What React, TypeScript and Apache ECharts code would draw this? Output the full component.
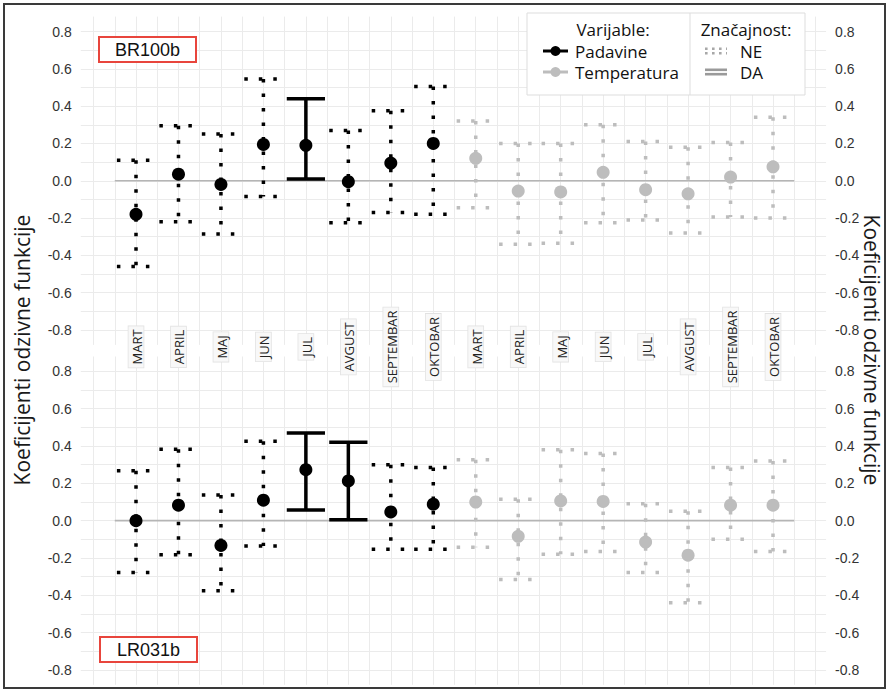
import React, { useEffect, useRef } from 'react';
import * as echarts from 'echarts';

// ---------- data ----------
const months = ['MART', 'APRIL', 'MAJ', 'JUN', 'JUL', 'AVGUST', 'SEPTEMBAR', 'OKTOBAR'];
const variables = ['Padavine', 'Temperatura'];
const significance = ['NE', 'DA'];
const panelNames = ['BR100b', 'LR031b'];

// BR100b
const br100bPadavineMean = [-0.18, 0.035, -0.02, 0.195, 0.19, -0.005, 0.095, 0.2];
const br100bPadavineLow = [-0.46, -0.22, -0.285, -0.085, 0.01, -0.225, -0.17, -0.18];
const br100bPadavineHigh = [0.11, 0.295, 0.25, 0.545, 0.44, 0.27, 0.375, 0.505];
const br100bPadavineSig = [0, 0, 0, 0, 1, 0, 0, 0];

const br100bTemperaturaMean = [0.12, -0.055, -0.06, 0.045, -0.048, -0.07, 0.02, 0.075];
const br100bTemperaturaLow = [-0.145, -0.34, -0.335, -0.225, -0.21, -0.28, -0.195, -0.2];
const br100bTemperaturaHigh = [0.32, 0.2, 0.2, 0.3, 0.21, 0.18, 0.205, 0.34];
const br100bTemperaturaSig = [0, 0, 0, 0, 0, 0, 0, 0];

// LR031b
const lr031bPadavineMean = [0.0, 0.083, -0.133, 0.11, 0.273, 0.213, 0.047, 0.088];
const lr031bPadavineLow = [-0.278, -0.183, -0.376, -0.136, 0.057, 0.005, -0.153, -0.153];
const lr031bPadavineHigh = [0.268, 0.383, 0.137, 0.425, 0.47, 0.42, 0.3, 0.285];
const lr031bPadavineSig = [0, 0, 0, 0, 1, 1, 0, 0];

const lr031bTemperaturaMean = [0.1, -0.084, 0.106, 0.103, -0.115, -0.185, 0.083, 0.083];
const lr031bTemperaturaLow = [-0.143, -0.315, -0.18, -0.165, -0.278, -0.44, -0.1, -0.165];
const lr031bTemperaturaHigh = [0.327, 0.115, 0.38, 0.36, 0.09, 0.05, 0.285, 0.32];
const lr031bTemperaturaSig = [0, 0, 0, 0, 0, 0, 0, 0];

const zeroLineSpan = [0.5, 16.5];

// ---------- styling ----------
const BLACK = '#000000';
const GRAY = '#bdbdbd';
const GRID_COLOR = '#ebebeb';
const CAP_WIDTH = 0.9;
const SANS = "'Open Sans', 'Noto Sans', sans-serif";
const ARIAL = "'Liberation Sans', Arial, sans-serif";

type Panel = {
  mean: number[][];
  low: number[][];
  high: number[][];
  sig: number[][];
};

const panels: Panel[] = [
  {
    mean: [br100bPadavineMean, br100bTemperaturaMean],
    low: [br100bPadavineLow, br100bTemperaturaLow],
    high: [br100bPadavineHigh, br100bTemperaturaHigh],
    sig: [br100bPadavineSig, br100bTemperaturaSig],
  },
  {
    mean: [lr031bPadavineMean, lr031bTemperaturaMean],
    low: [lr031bPadavineLow, lr031bTemperaturaLow],
    high: [lr031bPadavineHigh, lr031bTemperaturaHigh],
    sig: [lr031bPadavineSig, lr031bTemperaturaSig],
  },
];

const xPos = (v: number, i: number) => v * months.length + i + 1;

const yFmt = (v: number) => {
  const r = Math.round(v * 10);
  if (Math.abs(r) % 2 !== 0) return '';
  const val = r / 10;
  return (Math.abs(val) < 1e-9 ? 0 : val).toFixed(1);
};

const xFmt = (v: number) => {
  const r = Math.round(v);
  if (Math.abs(v - r) > 1e-6 || r < 1 || r > months.length * 2) return '';
  return '{b|' + months[(r - 1) % months.length] + '}';
};

function buildOption() {
  const gridLeft = 80.8;
  const gridRight = 889 - 826.1;
  const gridHeight = 328.3;
  const gridTops = [16.6, 356.5];

  const grids = gridTops.map((t) => ({
    left: gridLeft,
    right: gridRight,
    top: t,
    height: gridHeight,
    outerBoundsMode: 'none',
  }));

  const xAxes = gridTops.map((_, g) => ({
    type: 'value',
    gridIndex: g,
    min: -0.3,
    max: 17.25,
    minInterval: 0.5,
    maxInterval: 0.5,
    splitNumber: 35,
    axisLine: { show: false },
    axisTick: { show: false },
    axisLabel:
      g === 0
        ? {
            show: true,
            rotate: 90,
            align: 'center',
            verticalAlign: 'middle',
            margin: 2,
            showMinLabel: false,
            showMaxLabel: false,
            formatter: xFmt,
            rich: {
              b: {
                fontSize: 13,
                fontFamily: SANS,
                color: '#222',
                backgroundColor: '#f8f8f8',
                borderColor: '#e2e2e2',
                borderWidth: 0.8,
                padding: [2, 3, 0, 3],
              },
            },
          }
        : { show: false },
    splitLine: {
      show: true,
      showMinLine: false,
      showMaxLine: false,
      lineStyle: { color: GRID_COLOR, width: 1 },
    },
  }));

  const yAxes: any[] = [];
  gridTops.forEach((_, g) => {
    ['left', 'right'].forEach((pos) => {
      yAxes.push({
        type: 'value',
        gridIndex: g,
        position: pos,
        min: -0.88,
        max: 0.88,
        minInterval: 0.1,
        maxInterval: 0.1,
        splitNumber: 18,
        axisLine: { show: false },
        axisTick: { show: false },
        axisLabel: {
          formatter: yFmt,
          showMinLabel: false,
          showMaxLabel: false,
          color: '#333',
          fontSize: 14,
          fontFamily: ARIAL,
          margin: 9,
        },
        splitLine:
          pos === 'left'
            ? {
                show: true,
                showMinLine: false,
                showMaxLine: false,
                lineStyle: { color: GRID_COLOR, width: 1 },
              }
            : { show: false },
      });
    });
  });

  const series: any[] = [];
  panels.forEach((p, g) => {
    series.push({
      type: 'line',
      xAxisIndex: g,
      yAxisIndex: g * 2,
      data: zeroLineSpan.map((x) => [x, 0]),
      symbol: 'none',
      silent: true,
      z: 1,
      lineStyle: { color: '#b5b5b5', width: 1.6 },
    });
    variables.forEach((_, v) => {
      const color = v === 0 ? BLACK : GRAY;
      const data = months.map((_, i) => [xPos(v, i), p.low[v][i], p.high[v][i], p.sig[v][i]]);
      series.push({
        type: 'custom',
        xAxisIndex: g,
        yAxisIndex: g * 2,
        z: 2,
        silent: true,
        encode: { x: 0, y: [1, 2] },
        data,
        renderItem: (params: any, api: any) => {
          const x = api.value(0);
          const lo = api.value(1);
          const hi = api.value(2);
          const sig = api.value(3);
          const top = api.coord([x, hi]);
          const bot = api.coord([x, lo]);
          const hw = api.size([CAP_WIDTH, 0])[0] / 2;
          const style: any = {
            stroke: color,
            lineWidth: 3.5,
            lineCap: 'butt',
            fill: null,
          };
          if (!sig) style.lineDash = [3.5, 11];
          return {
            type: 'group',
            children: [
              { type: 'line', shape: { x1: top[0] - hw, y1: top[1], x2: top[0] + hw, y2: top[1] }, style },
              { type: 'line', shape: { x1: top[0], y1: top[1], x2: bot[0], y2: bot[1] }, style },
              { type: 'line', shape: { x1: bot[0] - hw, y1: bot[1], x2: bot[0] + hw, y2: bot[1] }, style },
            ],
          };
        },
      });
      series.push({
        type: 'scatter',
        xAxisIndex: g,
        yAxisIndex: g * 2,
        z: 3,
        silent: true,
        symbol: 'circle',
        symbolSize: 13,
        itemStyle: { color, opacity: 1 },
        data: months.map((_, i) => [xPos(v, i), p.mean[v][i]]),
      });
    });
  });

  const lx = 527;
  const ly = 13;
  const lw = 278;
  const lh = 82;
  const divX = 690;
  const row1 = 51;
  const row2 = 72;
  const titleY = 29;

  const graphic: any[] = [
    // outer frame
    {
      type: 'rect',
      z: 200,
      silent: true,
      shape: { x: 4, y: 4, width: 881, height: 684 },
      style: { fill: 'none', stroke: '#3a3a3a', lineWidth: 2 },
    },
    // axis titles
    {
      type: 'text',
      z: 100,
      x: 22,
      y: 350,
      rotation: Math.PI / 2,
      style: {
        text: 'Koeficijenti odzivne funkcije',
        fontSize: 21,
        fontFamily: SANS,
        fill: '#1a1a1a',
        align: 'center',
        verticalAlign: 'middle',
      },
    },
    {
      type: 'text',
      z: 100,
      x: 872,
      y: 350,
      rotation: -Math.PI / 2,
      style: {
        text: 'Koeficijenti odzivne funkcije',
        fontSize: 21,
        fontFamily: SANS,
        fill: '#1a1a1a',
        align: 'center',
        verticalAlign: 'middle',
      },
    },
    // panel tags
    {
      type: 'rect',
      z: 100,
      shape: { x: 99, y: 37, width: 97, height: 25 },
      style: { fill: '#fff', stroke: '#e8453c', lineWidth: 2 },
    },
    {
      type: 'text',
      z: 101,
      x: 147.5,
      y: 50,
      style: { text: panelNames[0], fontSize: 18, fontFamily: ARIAL, fill: '#111', align: 'center', verticalAlign: 'middle' },
    },
    {
      type: 'rect',
      z: 100,
      shape: { x: 100, y: 637, width: 97, height: 25 },
      style: { fill: '#fff', stroke: '#e8453c', lineWidth: 2 },
    },
    {
      type: 'text',
      z: 101,
      x: 148.5,
      y: 650,
      style: { text: panelNames[1], fontSize: 18, fontFamily: ARIAL, fill: '#111', align: 'center', verticalAlign: 'middle' },
    },
    // legend
    {
      type: 'rect',
      z: 100,
      shape: { x: lx, y: ly, width: lw, height: lh },
      style: { fill: '#fff', stroke: '#dddddd', lineWidth: 1 },
    },
    {
      type: 'line',
      z: 101,
      shape: { x1: divX, y1: ly, x2: divX, y2: ly + lh },
      style: { stroke: '#dddddd', lineWidth: 1 },
    },
    {
      type: 'text',
      z: 101,
      x: 613,
      y: titleY,
      style: { text: 'Varijable:', fontSize: 17, fontFamily: SANS, fill: '#111', align: 'center', verticalAlign: 'middle' },
    },
    {
      type: 'text',
      z: 101,
      x: 746,
      y: titleY,
      style: { text: 'Značajnost:', fontSize: 17, fontFamily: SANS, fill: '#111', align: 'center', verticalAlign: 'middle' },
    },
    // variable keys
    ...variables.flatMap((name, v) => {
      const y = v === 0 ? row1 : row2;
      const c = v === 0 ? BLACK : GRAY;
      return [
        { type: 'line', z: 101, shape: { x1: 543, y1: y, x2: 568, y2: y }, style: { stroke: c, lineWidth: 3 } },
        { type: 'circle', z: 102, shape: { cx: 555.5, cy: y, r: 5 }, style: { fill: c } },
        {
          type: 'text',
          z: 101,
          x: 575,
          y,
          style: { text: name, fontSize: 17, fontFamily: SANS, fill: '#111', align: 'left', verticalAlign: 'middle' },
        },
      ];
    }),
    // significance keys
    ...significance.flatMap((name, s) => {
      const y = s === 0 ? row1 : row2;
      const st: any = { stroke: s === 0 ? '#a8a8a8' : '#9a9a9a', lineWidth: 2.6, lineCap: 'butt' };
      if (s === 0) st.lineDash = [2.6, 4.4];
      return [
        { type: 'line', z: 101, shape: { x1: 705, y1: y - 2.2, x2: 727, y2: y - 2.2 }, style: st },
        { type: 'line', z: 101, shape: { x1: 705, y1: y + 2.2, x2: 727, y2: y + 2.2 }, style: st },
        {
          type: 'text',
          z: 101,
          x: 740,
          y,
          style: { text: name, fontSize: 17, fontFamily: SANS, fill: '#111', align: 'left', verticalAlign: 'middle' },
        },
      ];
    }),
  ];

  return {
    animation: false,
    backgroundColor: '#ffffff',
    grid: grids,
    xAxis: xAxes,
    yAxis: yAxes,
    series,
    graphic,
  };
}

export default function App() {
  const ref = useRef<HTMLDivElement>(null);
  useEffect(() => {
    if (!ref.current) return;
    const chart = echarts.init(ref.current, null, { renderer: 'svg' });
    chart.setOption(buildOption() as any);
    return () => chart.dispose();
  }, []);
  return (
    <div
      ref={ref}
      style={{ position: 'fixed', left: 0, top: 0, width: 889, height: 692, background: '#fff' }}
    />
  );
}
